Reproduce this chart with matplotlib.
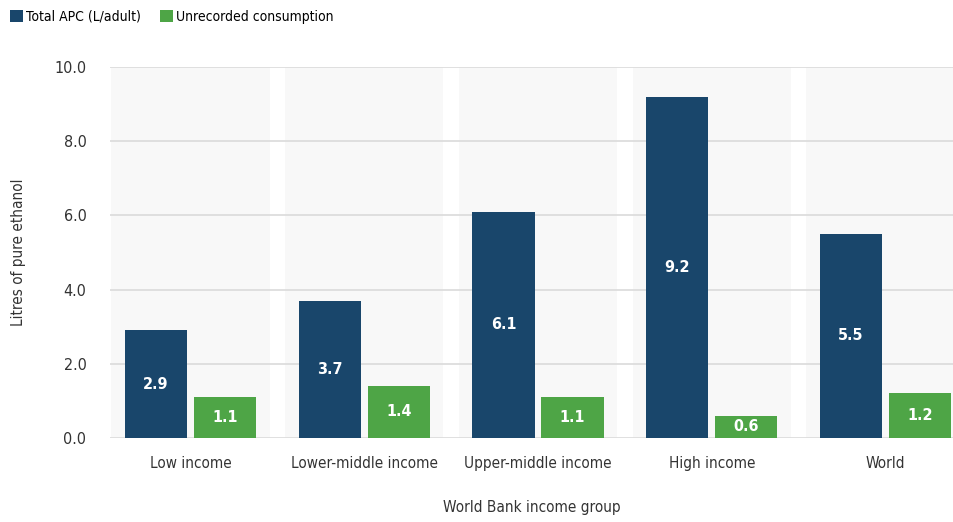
import matplotlib.pyplot as plt
import numpy as np

plt.rcParams["font.family"] = ["DejaVu Sans"]
plt.rcParams["font.stretch"] = "condensed"
plt.rcParams["font.size"] = 11

groups = ["Low income", "Lower-middle income", "Upper-middle income", "High income", "World"]
total_apc = [2.9, 3.7, 6.1, 9.2, 5.5]
unrecorded = [1.1, 1.4, 1.1, 0.6, 1.2]
yticks = [0, 2, 4, 6, 8, 10]

navy = "#19466b"
green = "#4ea546"

fig = plt.figure(figsize=(9.54, 5.22), dpi=100)
ax = fig.add_axes([0.1153, 0.161, 0.8847, 0.7106])

x = np.arange(len(groups))
w = 0.357
gap = 0.02

# grey band behind each group
for i in x:
    ax.axvspan(i - 0.455, i + 0.455, color="#f8f8f8", zorder=0, lw=0)

for y in yticks:
    ax.axhline(y, color="#dadada", lw=1.2, zorder=1)

b1 = ax.bar(x - w / 2 - gap, total_apc, w, color=navy, zorder=2, label="Total APC (L/adult)")
b2 = ax.bar(x + w / 2 + gap, unrecorded, w, color=green, zorder=2, label="Unrecorded consumption")

for bars, vals in [(b1, total_apc), (b2, unrecorded)]:
    for r, v in zip(bars, vals):
        ax.text(r.get_x() + r.get_width() / 2, v / 2, f"{v:.1f}", ha="center", va="center",
                color="white", fontsize=11.5, fontweight="bold", zorder=3)

ax.set_xlim(-0.463, 4.394)
ax.set_ylim(0, 10)
ax.set_yticks(yticks)
ax.set_yticklabels([f"{v:.1f}" for v in yticks], fontsize=11.5, color="#333333")
ax.set_xticks(x)
ax.set_xticklabels(groups, fontsize=11, color="#333333")
ax.tick_params(length=0, pad=13)
ax.tick_params(axis="y", pad=17)
for s in ax.spines.values():
    s.set_visible(False)

ax.set_ylabel("Litres of pure ethanol", fontsize=11, color="#333333", labelpad=20)
ax.set_xlabel("World Bank income group", fontsize=11, color="#333333", labelpad=21)

fig.legend(handles=[b1, b2], loc="upper left", bbox_to_anchor=(-0.004, 1.008), ncol=2,
           frameon=False, fontsize=10, handlelength=0.9, handleheight=0.9,
           handletextpad=0.25, columnspacing=1.4, borderpad=0.5)

fig.savefig("out.png", dpi=100, facecolor="white")
